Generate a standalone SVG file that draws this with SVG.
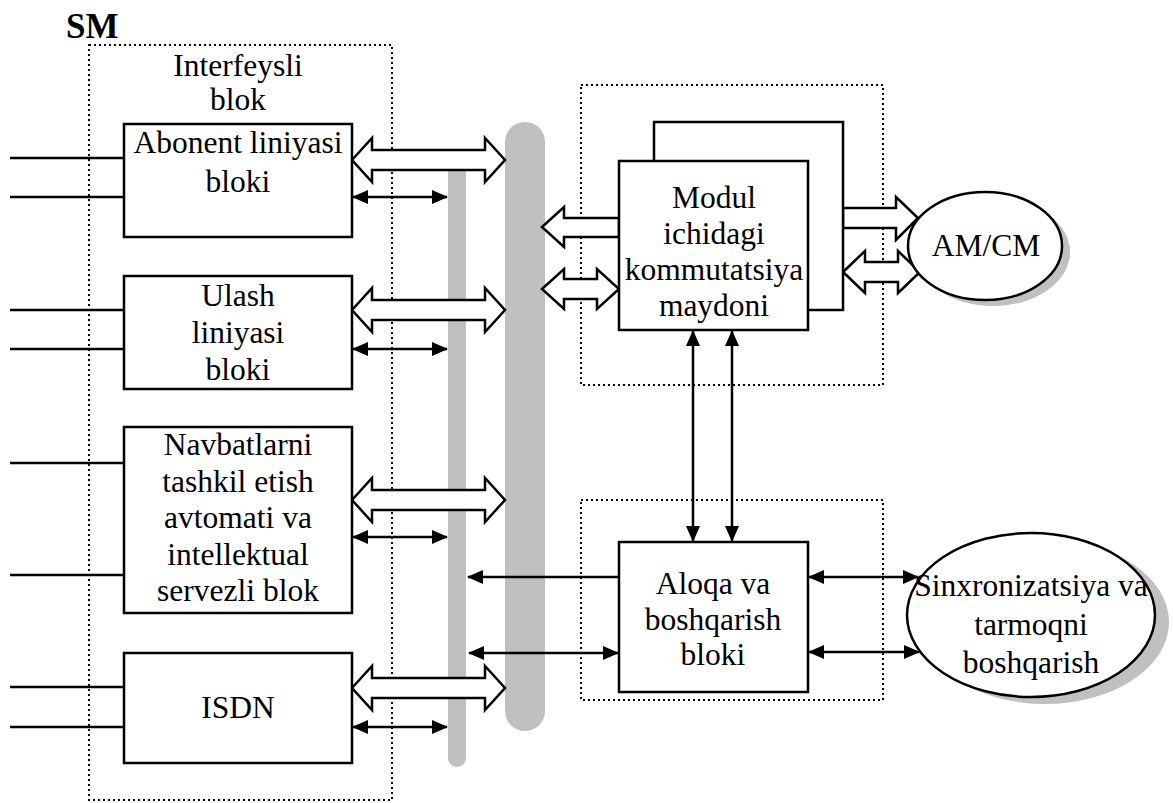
<svg xmlns="http://www.w3.org/2000/svg" width="1173" height="803" viewBox="0 0 1173 803">
<defs>
<style>
.t{font-family:"Liberation Serif","Times New Roman",serif;font-size:31.5px;fill:#000;text-anchor:middle}
.b{fill:#fff;stroke:#000;stroke-width:2.5}
.d{fill:none;stroke:#000;stroke-width:2;stroke-dasharray:2 3}
.ba{fill:#fff;stroke:#000;stroke-width:2.5;stroke-linejoin:miter}
.ln{stroke:#000;stroke-width:2.5;fill:none}
.ar{stroke:#000;stroke-width:2.5;fill:none;marker-end:url(#ah)}
.ar2{stroke:#000;stroke-width:2.5;fill:none;marker-end:url(#ah);marker-start:url(#ahs)}
.bar{fill:#c0c0c0}
.sh{fill:#c0c0c0}
</style>
<marker id="ah" viewBox="0 0 16 14" refX="15" refY="7" markerWidth="16" markerHeight="14" markerUnits="userSpaceOnUse" orient="auto"><path d="M0,0 L16,7 L0,14 z" fill="#000"/></marker>
<marker id="ahs" viewBox="0 0 16 14" refX="1" refY="7" markerWidth="16" markerHeight="14" markerUnits="userSpaceOnUse" orient="auto"><path d="M16,0 L0,7 L16,14 z" fill="#000"/></marker>
</defs>

<g id="buses">
<rect class="bar" x="448" y="150" width="18" height="617" rx="9"/>
<rect class="bar" x="505" y="122" width="40" height="609" rx="20"/>
</g>

<g id="sm-frame">
<text x="66" y="38" style="font-family:'Liberation Serif','Times New Roman',serif;font-size:35px;font-weight:bold">SM</text>
<rect class="d" x="89" y="45" width="303" height="755"/>
<text class="t" x="238" y="76">Interfeysli</text>
<text class="t" x="238" y="110">blok</text>
</g>

<g id="frame-module"><rect class="d" x="581" y="85" width="302" height="300"/></g>
<g id="frame-control"><rect class="d" x="581" y="500" width="302" height="200"/></g>

<g id="connectors">
<path class="ln" d="M10,158H124M10,197H124M10,310H124M10,349H124M10,463H124M10,575H124M10,687H124M10,727H124"/>
<polygon class="ba" points="352,160 372,138 372,150 485,150 485,138 505,160 485,182 485,170 372,170 372,182"/>
<polygon class="ba" points="352,310 372,288 372,300 485,300 485,288 505,310 485,332 485,320 372,320 372,332"/>
<polygon class="ba" points="352,500 372,478 372,490 485,490 485,478 505,500 485,522 485,510 372,510 372,522"/>
<polygon class="ba" points="352,688 372,666 372,678 485,678 485,666 505,688 485,710 485,698 372,698 372,710"/>
<line class="ar2" x1="353" y1="197" x2="447" y2="197"/>
<line class="ar2" x1="353" y1="349" x2="447" y2="349"/>
<line class="ar2" x1="353" y1="537" x2="447" y2="537"/>
<line class="ar2" x1="353" y1="727" x2="447" y2="727"/>
<polygon class="ba" points="542,227 564,207 564,218 619,218 619,237 564,237 564,247"/>
<polygon class="ba" points="542,289 564,269 564,279 597,279 597,269 619,289 597,309 597,299 564,299 564,309"/>
<polygon class="ba" points="843,208 896,208 896,197 918,218 896,240 896,228 843,228"/>
<polygon class="ba" points="843,272 865,251 865,262 898,262 898,251 920,272 898,293 898,282 865,282 865,293"/>
<line class="ar2" x1="693" y1="331" x2="693" y2="541"/>
<line class="ar2" x1="732" y1="331" x2="732" y2="541"/>
<line class="ar" x1="619" y1="577" x2="468" y2="577"/>
<line class="ar2" x1="469" y1="653" x2="618" y2="653"/>
<line class="ar2" x1="809" y1="577" x2="918" y2="577"/>
<line class="ar2" x1="809" y1="652" x2="919" y2="652"/>
</g>

<g id="node-abonent">
<rect class="b" x="124" y="124" width="228" height="113"/>
<text class="t" x="238" y="153">Abonent liniyasi</text>
<text class="t" x="238" y="192">bloki</text>
</g>
<g id="node-ulash">
<rect class="b" x="124" y="276" width="228" height="113"/>
<text class="t" x="238" y="306">Ulash</text>
<text class="t" x="238" y="343">liniyasi</text>
<text class="t" x="238" y="380">bloki</text>
</g>
<g id="node-navbat">
<rect class="b" x="124" y="427" width="228" height="186"/>
<text class="t" x="238" y="455">Navbatlarni</text>
<text class="t" x="238" y="492">tashkil etish</text>
<text class="t" x="238" y="528">avtomati va</text>
<text class="t" x="238" y="565">intellektual</text>
<text class="t" x="238" y="601">servezli blok</text>
</g>
<g id="node-isdn">
<rect class="b" x="124" y="653" width="228" height="110"/>
<text class="t" x="238" y="718">ISDN</text>
</g>

<g id="node-module">
<rect class="b" x="654" y="122" width="189" height="188"/>
<rect class="b" x="619" y="161" width="189" height="169"/>
<text class="t" x="714" y="208">Modul</text>
<text class="t" x="714" y="244">ichidagi</text>
<text class="t" x="714" y="280">kommutatsiya</text>
<text class="t" x="714" y="316">maydoni</text>
</g>

<g id="node-amcm">
<ellipse class="sh" cx="993" cy="252" rx="77" ry="54"/>
<ellipse class="b" cx="985" cy="246" rx="77" ry="54" stroke-width="2"/>
<text class="t" x="986" y="256">AM/CM</text>
</g>

<g id="node-control">
<rect class="b" x="619" y="542" width="189" height="150"/>
<text class="t" x="713" y="594">Aloqa va</text>
<text class="t" x="713" y="630">boshqarish</text>
<text class="t" x="713" y="665">bloki</text>
</g>

<g id="node-sync">
<ellipse class="sh" cx="1045" cy="622" rx="124" ry="82"/>
<ellipse class="b" cx="1031" cy="615" rx="124" ry="82" stroke-width="2"/>
<text class="t" x="1031" y="596">Sinxronizatsiya va</text>
<text class="t" x="1031" y="635">tarmoqni</text>
<text class="t" x="1031" y="673">boshqarish</text>
</g>
</svg>
